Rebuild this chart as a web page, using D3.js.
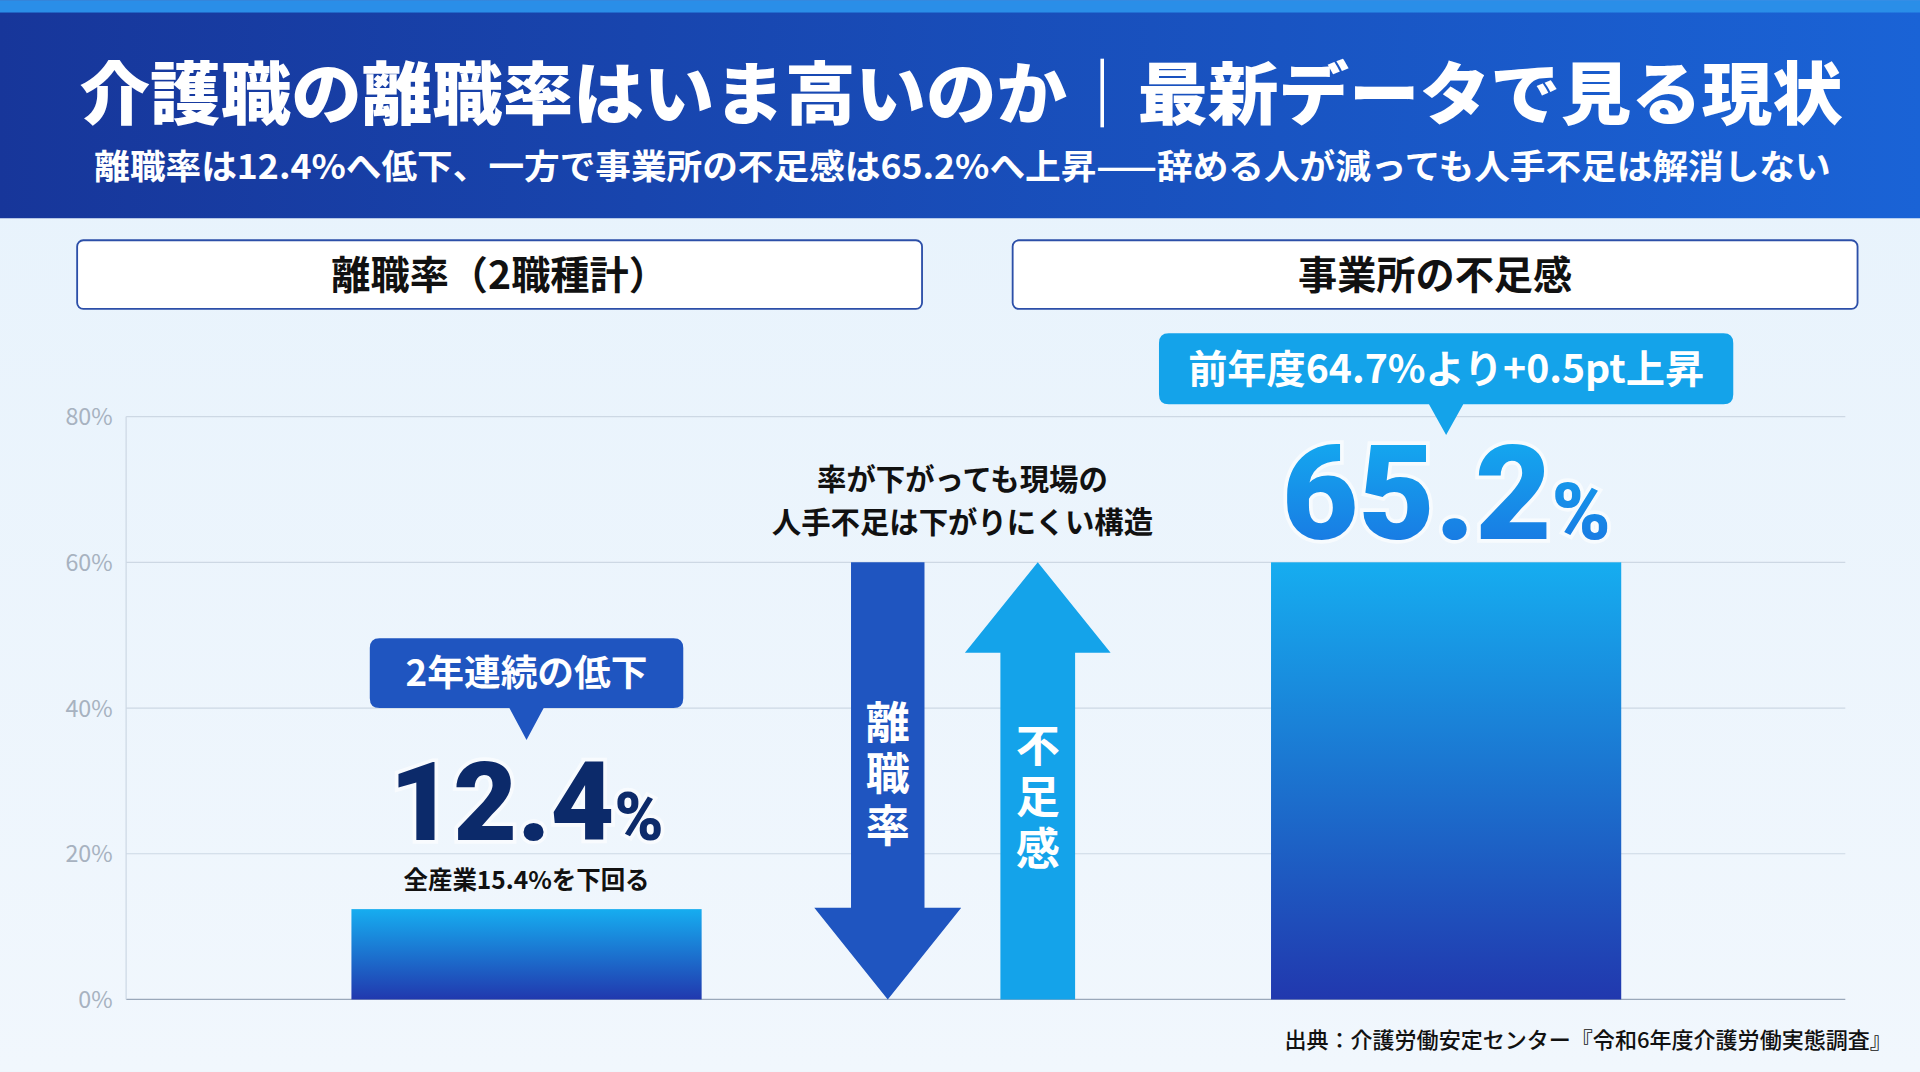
<!DOCTYPE html>
<html><head><meta charset="utf-8">
<script src="https://cdn.jsdelivr.net/npm/d3@7/dist/d3.min.js"></script>
<style>
html,body{margin:0;padding:0;background:#eaf4fc;overflow:hidden}
svg{display:block;font-family:"Noto Sans CJK JP","Noto Sans",sans-serif}
</style></head><body>
<svg id="c" width="1920" height="1072" viewBox="0 0 1568 875"></svg>
<script>
// data
const categories = ['離職率（2職種計）', '事業所の不足感'];
const values = [12.4, 65.2];
const previous = [15.4, 64.7];
const yTicks = [0, 20, 40, 60, 80];
const barCap = 60; // bars drawn up to the 60% line, the big label sits above

const svg = d3.select('#c');
const defs = svg.append('defs');

const hg = defs.append('linearGradient').attr('id', 'hdr');
hg.append('stop').attr('offset', '0%').attr('stop-color', '#17369a');
hg.append('stop').attr('offset', '100%').attr('stop-color', '#1a63d6');
const bg = defs.append('linearGradient').attr('id', 'bar').attr('x1', 0).attr('y1', 0).attr('x2', 0).attr('y2', 1);
bg.append('stop').attr('offset', '0%').attr('stop-color', '#16adf0');
bg.append('stop').attr('offset', '100%').attr('stop-color', '#2138ae');
const tg = defs.append('linearGradient').attr('id', 'big').attr('x1', 0).attr('y1', 0).attr('x2', 0).attr('y2', 1);
tg.append('stop').attr('offset', '0%').attr('stop-color', '#13b2f2');
tg.append('stop').attr('offset', '100%').attr('stop-color', '#1a6fe0');
const bgG = defs.append('linearGradient').attr('id', 'bgg').attr('x1', 0).attr('y1', 0).attr('x2', 0).attr('y2', 1);
bgG.append('stop').attr('offset', '0%').attr('stop-color', '#e6f2fc');
bgG.append('stop').attr('offset', '100%').attr('stop-color', '#f1f7fd');

svg.append('rect').attr('width', 1568).attr('height', 875).attr('fill', 'url(#bgg)');

// header
svg.append('rect').attr('width', 1568).attr('height', 178).attr('fill', 'url(#hdr)');
svg.append('rect').attr('width', 1568).attr('height', 10).attr('fill', '#2a8ee8');
svg.append('text').attr('x', 65).attr('y', 97)
  .attr('textLength', 1440).attr('lengthAdjust', 'spacingAndGlyphs')
  .attr('fill', '#fff').attr('font-size', 56).attr('font-weight', 900)
  .text('介護職の離職率はいま高いのか｜最新データで見る現状');
svg.append('text').attr('x', 77).attr('y', 146)
  .attr('textLength', 1418).attr('lengthAdjust', 'spacingAndGlyphs')
  .attr('fill', '#fff').attr('font-size', 28).attr('font-weight', 700)
  .text('離職率は12.4%へ低下、一方で事業所の不足感は65.2%へ上昇——辞める人が減っても人手不足は解消しない');

// panel titles
[[63, 753], [827, 1517]].forEach(([a, b], i) => {
  svg.append('rect').attr('x', a).attr('y', 196).attr('width', b - a).attr('height', 56).attr('rx', 5)
    .attr('fill', '#fff').attr('stroke', '#2c4fa8').attr('stroke-width', 1.5);
  svg.append('text').attr('x', (a + b) / 2).attr('y', 236).attr('text-anchor', 'middle')
    .attr('font-size', 32).attr('font-weight', 700).attr('fill', '#111').text(categories[i]);
});

// scales
const y = d3.scaleLinear().domain([0, 80]).range([816, 340]);
const x = d3.scaleOrdinal().domain(categories).range([430, 1181]);
const barW = 286;

const grid = svg.append('g');
grid.selectAll('line').data(yTicks).enter().append('line')
  .attr('x1', 103).attr('x2', 1507).attr('y1', d => y(d)).attr('y2', d => y(d))
  .attr('stroke', d => d === 0 ? '#9aa8ba' : '#cdd8e4').attr('stroke-width', 1);
svg.append('line').attr('x1', 103).attr('x2', 103).attr('y1', y(80)).attr('y2', y(0)).attr('stroke', '#cdd8e4');
grid.selectAll('text').data(yTicks).enter().append('text')
  .attr('x', 92).attr('y', d => y(d) + 7).attr('text-anchor', 'end')
  .attr('font-size', 19).attr('fill', '#a7b2c0').text(d => d + '%');

// bars
svg.append('g').selectAll('rect').data(values).enter().append('rect')
  .attr('x', (d, i) => x(categories[i]) - barW / 2)
  .attr('y', d => y(Math.min(d, barCap)))
  .attr('width', barW)
  .attr('height', d => y(0) - y(Math.min(d, barCap)))
  .attr('fill', 'url(#bar)');

// callouts
function callout(cx, top, w, h, tip, fill, label, fs) {
  const l = cx - w / 2, r = cx + w / 2, b = top + h;
  svg.append('path').attr('fill', fill)
    .attr('d', `M${l + 8},${top}H${r - 8}Q${r},${top} ${r},${top + 8}V${b - 8}Q${r},${b} ${r - 8},${b}
      H${cx + 14}L${cx},${tip}L${cx - 14},${b}H${l + 8}Q${l},${b} ${l},${b - 8}V${top + 8}Q${l},${top} ${l + 8},${top}Z`);
  svg.append('text').attr('x', cx).attr('y', top + h / 2 + fs * 0.36).attr('text-anchor', 'middle')
    .attr('fill', '#fff').attr('font-size', fs).attr('font-weight', 700).text(label);
}
callout(x(categories[0]), 521, 256, 57, 604, '#1f55c0', '2年連続の低下', 30);
callout(x(categories[1]), 272, 469, 58, 355, '#14a3ea', `前年度${previous[1]}%より+${(values[1] - previous[1]).toFixed(1)}pt上昇`, 32);

// big values
function bigVal(cx, base, v, fs, fill) {
  const t = svg.append('text').attr('x', cx).attr('y', base).attr('text-anchor', 'middle')
    .attr('fill', fill).attr('font-family', 'Roboto,"Noto Sans",sans-serif').attr('font-weight', 900)
    .attr('stroke', '#fff').attr('stroke-width', 6).attr('paint-order', 'stroke').attr('stroke-opacity', 0.6);
  t.append('tspan').attr('font-size', fs).text(v);
  t.append('tspan').attr('font-size', fs * 0.6).text('%');
}
bigVal(x(categories[0]), 686, values[0], 90, '#0c2a6a');
bigVal(x(categories[1]), 440, values[1], 108, 'url(#big)');
svg.append('text').attr('x', x(categories[0])).attr('y', 726).attr('text-anchor', 'middle')
  .attr('font-size', 20).attr('font-weight', 700).attr('fill', '#111').text(`全産業${previous[0]}%を下回る`);

// middle note
svg.append('text').attr('x', 786).attr('y', 400).attr('text-anchor', 'middle')
  .attr('font-size', 24).attr('font-weight', 700).attr('fill', '#111').text('率が下がっても現場の');
svg.append('text').attr('x', 786).attr('y', 435).attr('text-anchor', 'middle')
  .attr('font-size', 24).attr('font-weight', 700).attr('fill', '#111').text('人手不足は下がりにくい構造');

// arrows
svg.append('path').attr('fill', '#1f55c0')
  .attr('d', `M695,${y(60)}H755V${y(12.6)}H785L725,${y(0)}L665,${y(12.6)}H695Z`);
svg.append('path').attr('fill', '#14a3ea')
  .attr('d', `M817,${y(0)}H878V${y(47.6)}H907L847.5,${y(60)}L788,${y(47.6)}H817Z`);
function vtext(cx, y0, chars) {
  chars.split('').forEach((c, i) => svg.append('text').attr('x', cx).attr('y', y0 + i * 42)
    .attr('text-anchor', 'middle').attr('fill', '#fff').attr('font-size', 36).attr('font-weight', 700).text(c));
}
vtext(725, 603, '離職率');
vtext(847.5, 622, '不足感');

// source
svg.append('text').attr('x', 1545).attr('y', 856).attr('text-anchor', 'end')
  .attr('font-size', 18).attr('font-weight', 500).attr('fill', '#111')
  .text('出典：介護労働安定センター『令和6年度介護労働実態調査』');
</script>
</body></html>
